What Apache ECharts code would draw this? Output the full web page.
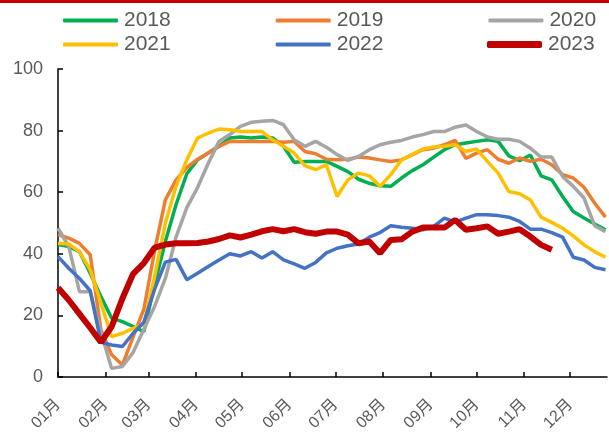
<!DOCTYPE html>
<html>
<head>
<meta charset="utf-8">
<script src="https://cdn.jsdelivr.net/npm/echarts@6/dist/echarts.min.js"></script>
<style>
html,body{margin:0;padding:0;background:#fff;}
#c{width:609px;height:434px;}
</style>
</head>
<body>
<div id="c"></div>
<script>
// Weekly values (week 1 .. week 52)
var years = ['2018', '2019', '2020', '2021', '2022', '2023'];
var v2018 = [43, 42.4, 40.7, 33.7, 26.1, 19.1, 18, 16.4, 14.7, 30, 44, 56, 66, 70.5, 72.7, 74.9, 77.6, 77.9, 77.6, 77.9, 77.6, 74.9, 69.7, 70, 70, 70, 68.4, 66.7, 64.2, 62.9, 62.1, 61.9, 64.6, 67, 68.9, 71.4, 73.8, 75.4, 76, 76.5, 77, 76.5, 71.8, 70.2, 72.1, 65.3, 64, 58.6, 53.7, 51.6, 49.7, 47.8];
var v2019 = [46.2, 45.1, 43.4, 39.7, 15.3, 7.2, 3.9, 13, 22, 41, 57.5, 64, 68, 70.7, 72.7, 74.9, 76.5, 76.5, 76.5, 76.5, 76.5, 76.2, 76.5, 73.2, 72.5, 70.7, 70.5, 70.7, 71.4, 71.1, 70.5, 70, 70.5, 72.2, 73.8, 74.3, 75.4, 76.8, 71, 72.7, 73.8, 70.7, 69.4, 71.1, 70, 70.7, 68.9, 65.7, 64.6, 61.6, 56.4, 51.9];
var v2020 = [48.3, 42.4, 27.7, 27.7, 14.5, 2.8, 3.4, 8, 15.5, 22.9, 32, 45.5, 55, 61.5, 69.4, 76.5, 78.7, 81.4, 82.7, 83, 83.3, 81.9, 77, 74.9, 76.5, 74.6, 72.2, 70.3, 71.6, 73.8, 75.4, 76.2, 76.8, 77.9, 78.7, 79.7, 79.7, 81.1, 81.8, 79.7, 77.9, 77.2, 77.2, 76.5, 74.3, 71.4, 71.4, 65.1, 61.9, 58.1, 49.1, 47.2];
var v2021 = [43.4, 43.2, 40.7, 34.8, 24, 13.1, 14.2, 15.8, 17.2, 32.6, 49.9, 62, 70.5, 77.6, 79.2, 80.5, 80.3, 79.7, 79.7, 79.7, 77, 74.9, 72.7, 68.6, 67.3, 68.9, 58.6, 64, 66.2, 65.3, 61.9, 65.7, 70.5, 72.2, 74, 74.7, 74.9, 75.4, 73.2, 74, 70, 66.2, 60.2, 59.5, 57.5, 51.9, 50.2, 48.3, 45.8, 42.9, 40.7, 38.9];
var v2022 = [39.1, 35.3, 32, 28, 11.3, 10.4, 9.9, 14.2, 17.8, 28.5, 37.3, 38.2, 31.6, 33.7, 35.9, 38, 40, 39.3, 40.7, 38.6, 40.7, 38, 36.7, 35.3, 37.2, 40.3, 41.8, 42.6, 43.2, 45.4, 46.9, 49.1, 48.6, 48.3, 47.8, 48.9, 51.6, 50.3, 51.6, 52.7, 52.7, 52.4, 51.9, 50.5, 48, 48, 46.9, 45.4, 38.9, 38, 35.6, 34.8];
var v2023 = [29, 25, 20.5, 16, 11.3, 16.4, 25.5, 33.5, 37, 42, 43, 43.4, 43.4, 43.5, 44, 44.8, 46, 45.3, 46.2, 47.3, 48, 47.3, 48, 47, 46.5, 47.2, 47.2, 46.2, 43.4, 44, 40.2, 44.5, 44.7, 47.2, 48.5, 48.5, 48.5, 51, 47.8, 48.3, 48.9, 46.5, 47.2, 48, 45.6, 42.9, 41.3];
var monthLabels = ['01月', '02月', '03月', '04月', '05月', '06月', '07月', '08月', '09月', '10月', '11月', '12月'];
var yTicks = [0, 20, 40, 60, 80, 100];

var colors = ['#00B050', '#ED7D31', '#A5A5A5', '#FFC000', '#4472C4', '#C00000'];
var allValues = [v2018, v2019, v2020, v2021, v2022, v2023];

// day-of-year of each month start (calendar), week index -> day
var jan1 = Date.UTC(2023, 0, 1);
var monthDays = monthLabels.map(function (_, i) { return Math.round((Date.UTC(2023, i, 1) - jan1) / 86400000); });
function toPoints(arr) { return arr.map(function (v, i) { return [i * 7, v]; }); }

var FONT = "'Liberation Sans', 'Noto Sans CJK SC', sans-serif";
var chart = echarts.init(document.getElementById('c'), null, {renderer: 'canvas'});

var series = years.map(function (y, i) {
  return {
    name: y,
    type: 'line',
    data: toPoints(allValues[i]),
    symbol: 'none',
    smooth: false,
    color: colors[i],
    lineStyle: {width: i === 5 ? 6 : 3.5, color: colors[i]},
    emphasis: {disabled: true},
    z: 2 + i
  };
});

var legendBase = {
  orient: 'horizontal',
  padding: 0,
  itemWidth: 55,
  itemHeight: 4,
  itemGap: 105,
  icon: 'roundRect',
  selectedMode: false,
  textStyle: {fontSize: 21, color: '#595959', fontFamily: FONT, padding: [0, 0, 0, 1]}
};

chart.setOption({
  animation: false,
  backgroundColor: '#fff',
  graphic: [{
    type: 'rect', left: 0, top: 0, z: 100,
    shape: {width: 609, height: 3},
    style: {fill: '#C8000A'}
  }],
  legend: [
    Object.assign({}, legendBase, {data: years.slice(0, 3), left: 63, top: 10}),
    Object.assign({}, legendBase, {data: years.slice(3, 5), left: 63, top: 34}),
    Object.assign({}, legendBase, {data: years.slice(5), left: 487, top: 34, itemHeight: 7})
  ],
  grid: {left: 58, right: 2, top: 69, bottom: 57},
  xAxis: {
    type: 'value',
    min: 0,
    max: 358,
    splitLine: {show: false},
    axisLine: {show: true, lineStyle: {color: '#000', width: 1.5}},
    axisTick: {show: true, inside: true, length: 5, customValues: monthDays, lineStyle: {color: '#000', width: 1.5}},
    axisLabel: {
      customValues: monthDays,
      rotate: 45,
      margin: 25,
      fontSize: 16,
      color: '#595959',
      fontFamily: FONT,
      formatter: function (v) { var k = monthDays.indexOf(v); return k >= 0 ? monthLabels[k] : ''; }
    }
  },
  yAxis: {
    type: 'value',
    min: yTicks[0],
    max: yTicks[yTicks.length - 1],
    interval: yTicks[1] - yTicks[0],
    splitLine: {show: false},
    axisLine: {show: true, lineStyle: {color: '#000', width: 1.5}},
    axisTick: {show: true, inside: true, length: 5, lineStyle: {color: '#000', width: 1.5}},
    axisLabel: {fontSize: 18, color: '#595959', fontFamily: FONT, margin: 15}
  },
  series: series
});
</script>
</body>
</html>
